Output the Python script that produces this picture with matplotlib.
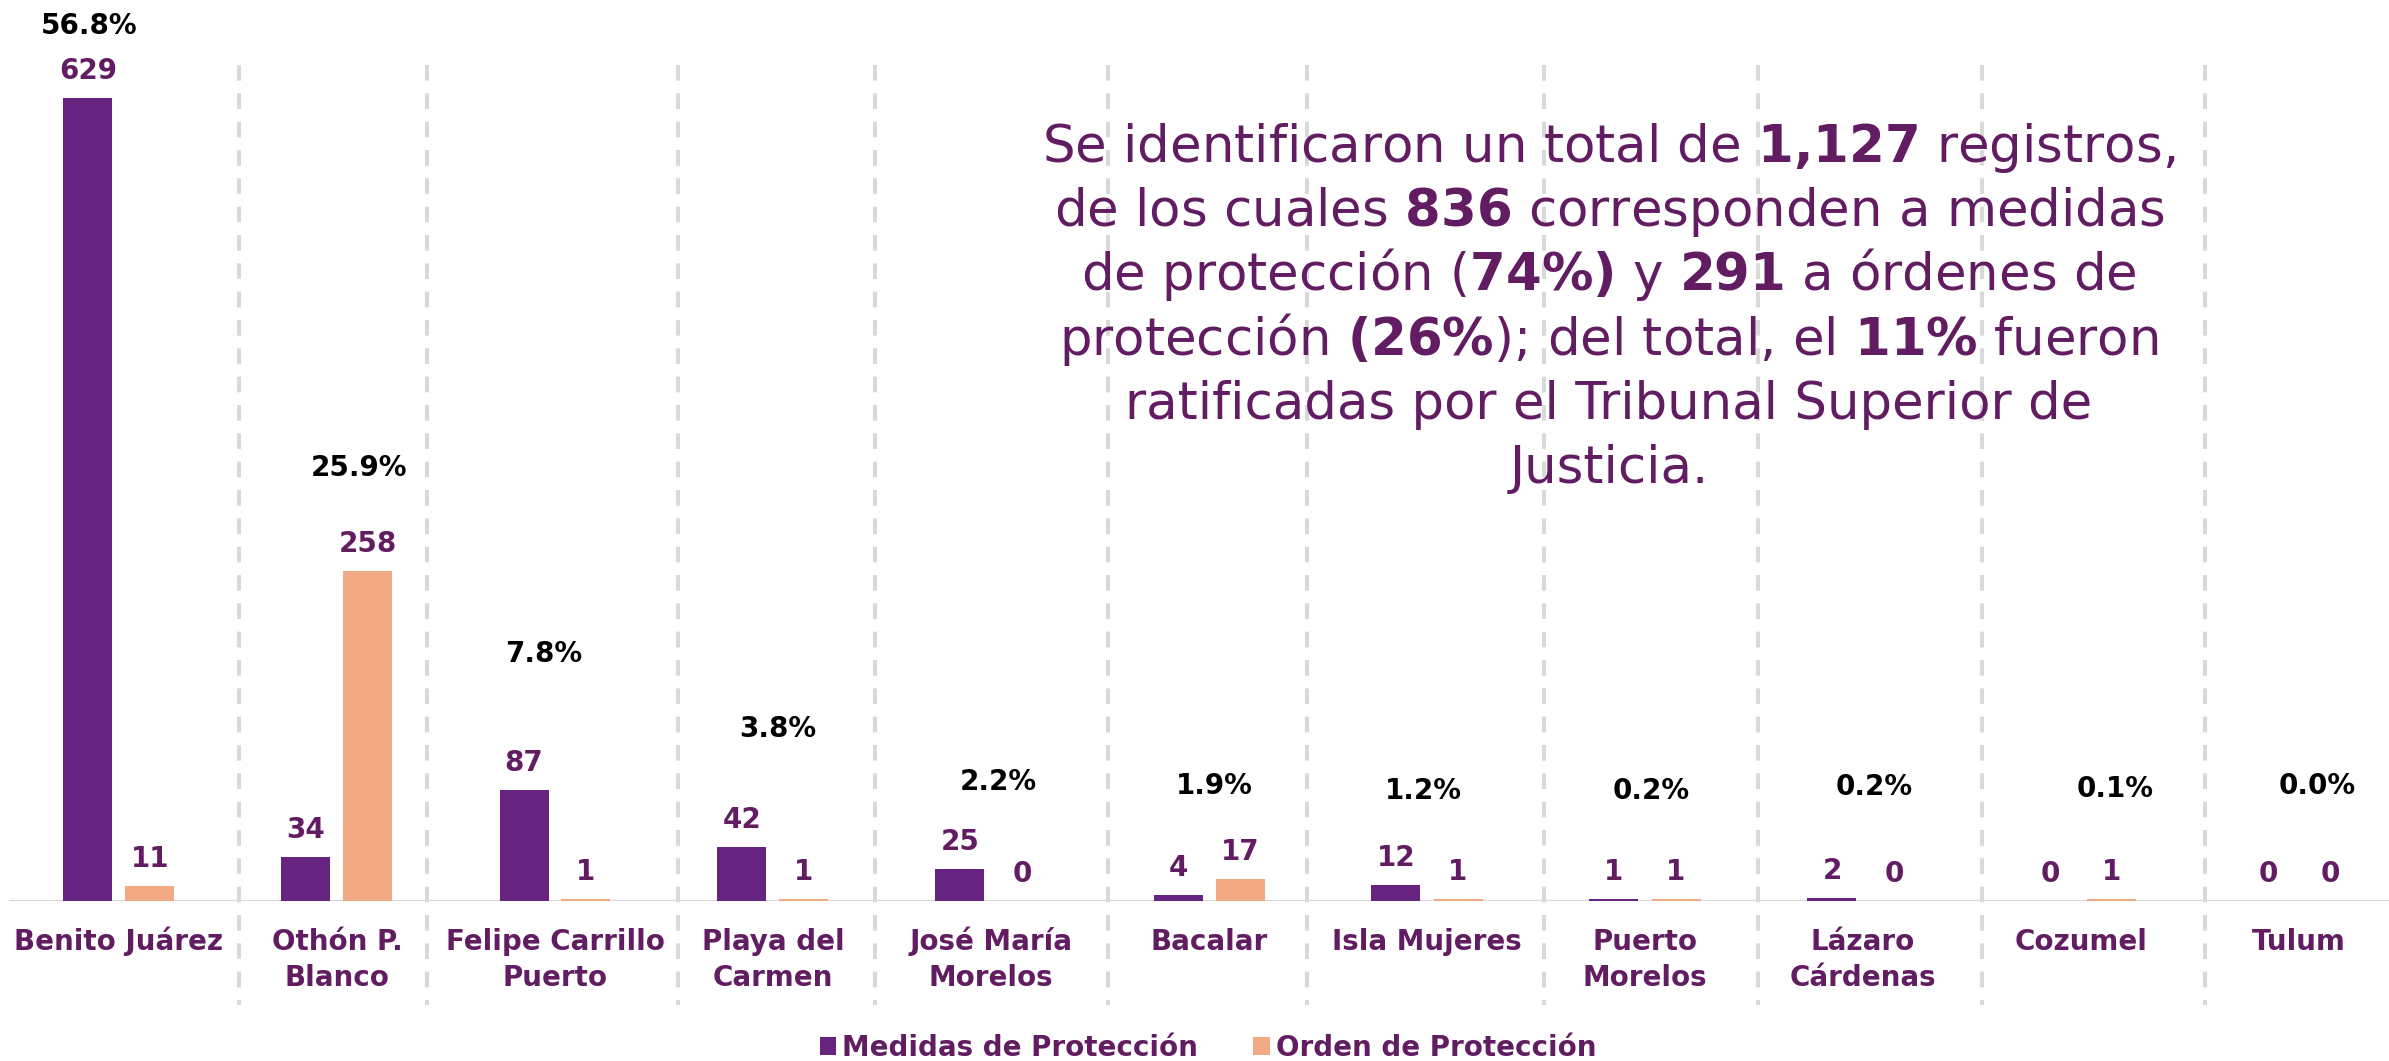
import matplotlib
matplotlib.use("Agg")
import matplotlib.pyplot as plt
import numpy as np

plt.rcParams['font.family'] = ['DejaVu Sans']
plt.rcParams['mathtext.fontset'] = 'custom'
plt.rcParams['mathtext.rm'] = 'DejaVu Sans'
plt.rcParams['mathtext.bf'] = 'DejaVu Sans:bold'
plt.rcParams['lines.scale_dashes'] = False

##### datos #####

municipios = ['Benito Juárez', 'Othón P.\nBlanco', 'Felipe Carrillo\nPuerto', 'Playa del\nCarmen',
              'José María\nMorelos', 'Bacalar', 'Isla Mujeres', 'Puerto\nMorelos',
              'Lázaro\nCárdenas', 'Cozumel', 'Tulum']
medidas = [629, 34, 87, 42, 25, 4, 12, 1, 2, 0, 0]
ordenes = [11, 258, 1, 1, 0, 17, 1, 1, 0, 1, 0]
porcentajes = [56.8, 25.9, 7.8, 3.8, 2.2, 1.9, 1.2, 0.2, 0.2, 0.1, 0.0]

series_labels = ['Medidas de Protección', 'Orden de Protección']

texto = [
    r'Se identificaron un total de $\mathbf{1{,}127}$ registros,',
    r'de los cuales $\mathbf{836}$ corresponden a medidas',
    r'de protección ($\mathbf{74\%)}$ y $\mathbf{291}$ a órdenes de',
    r'protección $\mathbf{(26\%}$); del total, el $\mathbf{11\%}$ fueron',
    r'ratificadas por el Tribunal Superior de',
    r'Justicia.',
]

### layout (pixels) for the hand placed percent labels and separators
pct_dx = [-30, 22, -11, 5, 7, 5, -4, 6, 11, 34, 18]
pct_dy = [64, 95, 128, 110, 79, 85, 86, 100, 103, 102, 107]
divisores = [0.550, 1.413, 2.564, 3.468, 4.537, 5.450, 6.537, 7.518, 8.546, 9.569]

morado = '#66237f'
naranja = '#f2aa84'
morado_txt = '#611c62'
gris = '#d9d9d9'

W, H = 2389, 1061
fig = plt.figure(figsize=(W / 100, H / 100), dpi=100)

base_px = 900.5          # baseline, px from top
esc = 1.2755             # px per unit
ax = fig.add_axes([0, (H - base_px) / H, 1, base_px / H])
ax.set_xlim(-119 / 218, (W - 119) / 218)
ax.set_ylim(0, base_px / esc)
ax.axis('off')

x = np.arange(len(municipios))
off = 31 / 218
bw = 49 / 218
b1 = ax.bar(x - off, medidas, bw, color=morado, zorder=3, label=series_labels[0])
b2 = ax.bar(x + off, ordenes, bw, color=naranja, zorder=3, label=series_labels[1])

ax.axhline(0, xmin=10 / W, xmax=1, color=gris, lw=1.6, zorder=2)

# separators
y_top = (base_px - 65) / esc
y_bot = (base_px - 1005) / esc
ax.vlines(divisores, y_top, y_bot, colors=gris, lw=2.9, linestyles=(0, (11.3, 9.1)),
          clip_on=False, zorder=1, capstyle='butt')

# value labels
for xs, vals in ((x - off, medidas), (x + off, ordenes)):
    for xi, v in zip(xs, vals):
        ax.annotate(str(v), xy=(xi, v), xytext=(0, 19), textcoords='offset pixels',
                    ha='center', va='baseline', fontsize=20, fontweight='bold',
                    color=morado_txt, zorder=4)

# percentage labels
for i, p in enumerate(porcentajes):
    top = max(medidas[i], ordenes[i])
    ax.annotate(f'{p:.1f}%', xy=(x[i], top), xytext=(pct_dx[i], pct_dy[i]),
                textcoords='offset pixels', ha='center', va='baseline',
                fontsize=20, fontweight='bold', color='black')

# category labels, one line at a time
for i, name in enumerate(municipios):
    for k, line in enumerate(name.split('\n')):
        ax.annotate(line, xy=(x[i], 0), xytext=(0, -49 - 36 * k), textcoords='offset pixels',
                    ha='center', va='baseline', fontsize=20, fontweight='bold',
                    color=morado_txt, annotation_clip=False)

# paragraph
for k, line in enumerate(texto):
    yb = 162 + 64.2 * k
    fig.text(1609 / W, (H - yb) / H, line, ha='center', va='baseline',
             fontsize=37, color=morado_txt)

leg = fig.legend(handles=[b1, b2], labels=series_labels, loc='center',
                 bbox_to_anchor=(1208 / W, (H - 1048) / H), ncol=2, frameon=False,
                 handlelength=0.6, handleheight=0.6, handletextpad=0.2,
                 columnspacing=2.0, prop=dict(weight='bold', size=20))
for t in leg.get_texts():
    t.set_color(morado_txt)

fig.savefig('out.png', dpi=100)
